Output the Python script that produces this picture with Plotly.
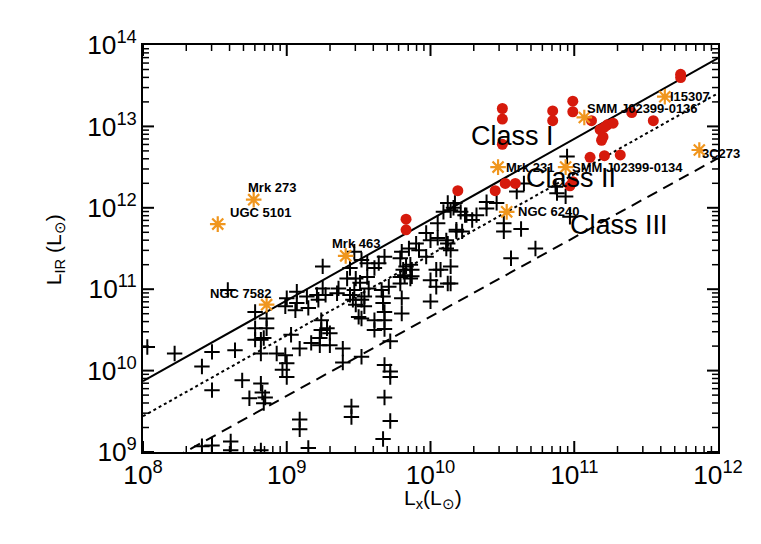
import numpy as np
import plotly.graph_objects as go

# log10 luminosities (L_sun)
# black crosses: plain sample
plus_log_lx = [8.03, 8.22, 8.48, 8.64, 8.41, 8.48, 8.69, 8.82, 8.74, 8.84, 8.83, 8.78, 8.78, 8.78, 8.82,
               8.82, 8.41, 8.48, 8.61, 8.61, 8.85, 8.59, 8.86, 8.86, 8.84, 8.93, 8.99, 9.00, 8.97, 9.00,
               9.00, 8.99, 9.07, 9.07, 9.06, 9.14, 9.15, 9.21, 9.22, 9.25, 9.27, 9.35, 9.36, 9.44, 9.46,
               9.47, 9.48, 9.50, 9.52, 9.25, 9.44, 9.42, 9.48, 9.03, 9.09, 9.17, 9.24, 9.24, 9.28, 9.30,
               9.23, 9.23, 9.30, 9.39, 9.39, 9.52, 9.45, 9.45, 9.09, 9.09, 9.15, 8.82,
               10.17, 10.09, 10.14, 10.21, 10.25, 10.05, 10.18, 9.97, 10.05, 10.00, 10.12, 10.14, 9.90,
               9.85, 9.92, 9.97, 9.80, 9.79, 9.83, 9.86, 9.81, 9.87, 9.82, 9.87, 9.86, 9.79, 10.04,
               10.14, 10.00, 10.04, 10.12, 9.79, 9.71, 9.66, 9.68, 9.64, 9.61, 9.56, 9.56, 9.57, 9.54,
               9.54, 9.67, 9.67, 9.68, 9.61, 9.68, 9.61, 9.68, 9.80, 9.80, 10.00, 9.72, 9.68, 9.72,
               9.72, 9.68, 9.72, 9.67, 9.52, 9.47,
               10.95, 10.65, 10.60, 10.87, 10.88, 10.94, 10.39, 10.39, 10.46, 10.51, 10.51, 10.63, 10.97,
               10.73, 10.56, 10.32, 10.29, 10.24, 10.22, 10.11, 10.18, 10.11, 10.14, 10.07, 10.16, 10.12,
               9.51, 9.52]
plus_log_lir = [10.29, 10.21, 10.23, 10.25, 10.05, 9.76, 9.88, 9.84, 9.66, 9.60, 9.73, 10.72, 10.52, 10.38, 10.38,
                10.21, 9.07, 9.08, 9.13, 9.02, 9.67, 10.99, 10.64, 10.52, 10.40, 10.21, 10.19, 10.09, 10.01, 9.92,
                10.89, 10.79, 10.97, 10.83, 10.74, 10.91, 10.77, 10.93, 10.87, 11.01, 10.93, 10.95, 11.01, 10.93, 10.87,
                10.99, 10.81, 10.66, 10.64, 11.28, 11.26, 11.13, 11.13, 10.44, 10.27, 10.34, 10.62, 10.50, 10.52, 10.46,
                10.40, 10.31, 10.31, 10.27, 10.10, 10.17, 9.56, 9.43, 9.40, 9.28, 9.05, 9.02,
                12.06, 11.95, 11.97, 11.95, 11.91, 11.81, 11.73, 11.69, 11.63, 11.60, 11.56, 11.48, 11.56,
                11.50, 11.48, 11.40, 11.46, 11.38, 11.28, 11.30, 11.24, 11.24, 11.17, 11.16, 11.13, 11.15, 11.24,
                11.28, 11.11, 11.03, 11.07, 11.07, 11.03, 10.99, 11.40, 11.32, 11.26, 11.32, 11.15, 11.01, 10.91,
                10.79, 10.91, 10.83, 10.72, 10.62, 10.62, 10.50, 10.51, 10.89, 10.70, 10.85, 10.36, 10.07, 9.99,
                9.92, 9.67, 9.38, 9.16, 11.36, 11.46,
                12.63, 12.30, 12.20, 12.26, 12.18, 12.14, 12.07, 11.99, 12.06, 11.81, 11.71, 11.74, 11.89,
                11.50, 11.38, 11.91, 11.85, 11.91, 11.71, 11.60, 11.71, 11.50, 11.07, 11.24, 12.00, 12.06,
                11.08, 10.87]

# red circles: high-redshift sources
red_log_lx = [10.50, 10.50, 10.50, 10.85, 10.85, 10.99, 10.99, 11.12, 11.23, 11.27, 11.40, 11.55, 11.74, 11.74,
              11.18, 11.19, 11.20, 11.21, 11.11, 11.21, 11.32, 10.97, 10.99, 10.59, 10.52, 10.45, 10.19, 9.83, 9.83]
red_log_lir = [13.22, 13.09, 12.78, 13.19, 13.07, 13.31, 13.18, 13.07, 13.02, 13.04, 13.17, 13.07, 13.64, 13.60,
               12.96, 12.83, 12.87, 12.99, 12.62, 12.64, 12.65, 12.27, 12.32, 12.30, 12.30, 12.21, 12.21, 11.86, 11.73]

# orange asterisks: named objects
star_names = ['Mrk 273', 'UGC 5101', 'NGC 7582', 'Mrk 463', 'Mrk 231', 'SMM J02399-0136',
              'SMM J02399-0134', 'NGC 6240', 'I15307', '3C273']
star_log_lx = [8.77, 8.52, 8.86, 9.41, 10.47, 11.07, 10.94, 10.53, 11.63, 11.87]
star_log_lir = [12.10, 11.80, 10.81, 11.41, 12.50, 13.11, 12.50, 11.95, 13.365, 12.71]

# class dividing lines (end points)
line_lx = [1e8, 1e12]
class1_lir = [7.4e9, 6.9e13]
class2_lir = [2.75e9, 2.55e13]
class3_lir = [5.2e8, 4.07e12]

class_names = ['Class I', 'Class II', 'Class III']
class_log_lx = [10.57, 10.98, 11.31]
class_log_lir = [12.88, 12.37, 11.79]

# label placement for the named objects: (xanchor, xshift, yshift)
label_pos = [('left', -8, 12), ('left', 10, 12), ('right', 6, 11), ('left', -16, 12), ('left', 6, 0),
             ('left', 1, 9), ('left', 4, 0), ('left', 9, 0), ('left', 3, 0), ('left', 1, -3)]

X_RANGE = [8, 12]
Y_RANGE = [9, 14]
FONT = 'Liberation Sans, Arial, sans-serif'

fig = go.Figure()
for y, dash in [(class1_lir, 'solid'), (class2_lir, 'dot'), (class3_lir, '11px,7px')]:
    fig.add_trace(go.Scatter(x=line_lx, y=y, mode='lines', showlegend=False, hoverinfo='skip',
                             line=dict(color='black', width=2, dash=dash)))

fig.add_trace(go.Scatter(x=10 ** np.array(plus_log_lx), y=10 ** np.array(plus_log_lir),
                         mode='markers', showlegend=False,
                         marker=dict(symbol='cross-thin', size=11, line=dict(color='black', width=2))))
fig.add_trace(go.Scatter(x=10 ** np.array(red_log_lx), y=10 ** np.array(red_log_lir),
                         mode='markers', showlegend=False,
                         marker=dict(symbol='circle', size=11, color='#d61a0c', line=dict(width=0))))
fig.add_trace(go.Scatter(x=10 ** np.array(star_log_lx), y=10 ** np.array(star_log_lir),
                         mode='markers', showlegend=False,
                         marker=dict(symbol='asterisk-open', size=13, color='#f0961e',
                                     line=dict(color='#f0961e', width=2.2))))

for name, lx, lir, (anchor, dx, dy) in zip(star_names, star_log_lx, star_log_lir, label_pos):
    fig.add_annotation(x=lx, y=lir, text='<b>%s</b>' % name, showarrow=False,
                       xanchor=anchor, yanchor='middle', xshift=dx, yshift=dy,
                       font=dict(family=FONT, size=13, color='black'))

for name, lx, lir in zip(class_names, class_log_lx, class_log_lir):
    fig.add_annotation(x=lx, y=lir, text=name, showarrow=False,
                       font=dict(family=FONT, size=27, color='black'))

# axis titles
fig.add_annotation(xref='paper', yref='paper', x=0.504, y=-0.115, text='L<sub>x</sub>(L<sub>⊙</sub>)',
                   showarrow=False, yanchor='middle', font=dict(family=FONT, size=21, color='black'))
fig.add_annotation(xref='paper', yref='paper', x=-0.153, y=0.496, text='L<sub>IR</sub> (L<sub>⊙</sub>)',
                   showarrow=False, textangle=-90, xanchor='center', yanchor='middle',
                   font=dict(family=FONT, size=21, color='black'))

# IDL style inward ticks on all four sides (major every decade, minor at 2..9)
PLOT_W, PLOT_H = 575, 407
tick = dict(type='line', xref='paper', yref='paper', layer='above')
for e in range(X_RANGE[0], X_RANGE[1]):
    for m in range(1, 10):
        f = (np.log10(m) + e - X_RANGE[0]) / (X_RANGE[1] - X_RANGE[0])
        n = (11 if m == 1 else 6) / PLOT_H
        w = 2 if m == 1 else 1.5
        for y0, y1 in [(0, n), (1, 1 - n)]:
            fig.add_shape(tick, x0=f, x1=f, y0=y0, y1=y1, line=dict(color='black', width=w))
for e in range(Y_RANGE[0], Y_RANGE[1]):
    for m in range(1, 10):
        f = (np.log10(m) + e - Y_RANGE[0]) / (Y_RANGE[1] - Y_RANGE[0])
        n = (11 if m == 1 else 6) / PLOT_W
        w = 2 if m == 1 else 1.5
        for x0, x1 in [(0, n), (1, 1 - n)]:
            fig.add_shape(tick, x0=x0, x1=x1, y0=f, y1=f, line=dict(color='black', width=w))

axis = dict(type='log', dtick=1, exponentformat='power', showgrid=False, zeroline=False,
            ticks='', showline=True, linecolor='black', linewidth=2, mirror=True, automargin=False,
            tickfont=dict(family=FONT, size=21, color='black'))

# the page body adds an 8px offset, margins are set so the frame sits where the original one does
fig.update_layout(
    width=761, height=544, paper_bgcolor='white', plot_bgcolor='white',
    margin=dict(l=135, r=51, t=37, b=100),
    xaxis=dict(axis, range=X_RANGE),
    yaxis=dict(axis, range=Y_RANGE),
)

fig.write_html('out.html')
